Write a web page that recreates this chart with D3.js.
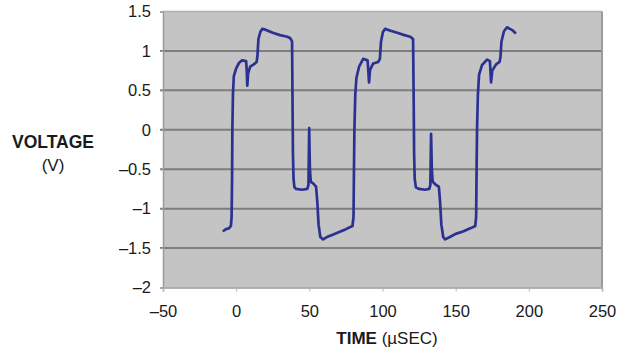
<!DOCTYPE html>
<meta charset="utf-8">
<style>
  body { margin: 0; background: #fff; }
  svg { display: block; }
  text { font-family: "Liberation Sans", Arial, sans-serif; fill: #1a1a1a; }
</style>
<body>
<script src="https://d3js.org/d3.v7.min.js"></script>
<script>
// tick values
var xTicks = [-50, 0, 50, 100, 150, 200, 250];
var yTicks = [-2, -1.5, -1, -0.5, 0, 0.5, 1, 1.5];

// trace, time in µs / voltage in V
var cycle1 = [[-8.5,-1.28],[-7,-1.26],[-5,-1.25],[-3.6,-1.22],[-3.1,-1.1],[-2.8,-0.6],[-2.6,0.0],[-2.2,0.45],[-1.6,0.68],[0,0.78],[2,0.85],[4,0.88],[6.8,0.87],[7.2,0.76],[7.6,0.56],[8.2,0.72],[9.6,0.8],[12,0.83],[14,0.86],[14.6,0.95],[15.2,1.15],[16.5,1.24],[17.8,1.28],[20,1.27],[25,1.23],[30,1.2],[35,1.18],[37,1.16],[38.2,1.12]];
var cycle1Low = [[38.5,0.4],[38.8,-0.3],[39.2,-0.62],[39.8,-0.73],[41,-0.75],[45,-0.76],[48.6,-0.75],[49.4,-0.7],[49.9,0.02],[50.4,-0.5],[51,-0.66],[52.6,-0.68],[54.6,-0.72],[55.4,-0.9],[56.3,-1.2],[57.5,-1.36],[59.4,-1.39],[62,-1.36],[66,-1.33],[70,-1.3],[75,-1.26],[79.5,-1.22]];
var cycle2 = [[80.2,-1.1],[80.5,-0.5],[80.8,0.0],[81.4,0.45],[82.2,0.66],[84,0.8],[86.8,0.9],[89.8,0.88],[90.3,0.75],[90.8,0.6],[91.5,0.76],[93.6,0.84],[97,0.86],[98.2,0.9],[99,1.12],[100.3,1.24],[101.8,1.28],[105,1.26],[110,1.23],[115,1.2],[119,1.18],[120.9,1.15]];
var cycle2Low = [[121.3,0.4],[121.6,-0.3],[122,-0.62],[122.8,-0.73],[125,-0.75],[129,-0.76],[132,-0.75],[132.7,-0.7],[133.2,-0.05],[133.7,-0.5],[134.3,-0.66],[136.6,-0.7],[138.5,-0.72],[139.3,-0.9],[140.2,-1.2],[141.5,-1.36],[142.8,-1.39],[146,-1.36],[150,-1.32],[155,-1.29],[160,-1.25],[163.4,-1.22]];
var cycle3 = [[164,-1.1],[164.3,-0.5],[164.6,0.0],[165.2,0.45],[166,0.7],[168,0.82],[171.4,0.89],[173.4,0.87],[173.8,0.74],[174.2,0.6],[175,0.75],[177.6,0.83],[180,0.86],[180.6,0.92],[181.3,1.12],[183,1.25],[185.1,1.3],[187,1.28],[189,1.26],[190.6,1.23]];

var trace = cycle1.concat(cycle1Low, cycle2, cycle2Low, cycle3);

var W = 625, H = 353;
var margin = {top: 11.5, right: 23, bottom: 65.5, left: 163};

var svg = d3.select("body").append("svg")
  .attr("width", W)
  .attr("height", H);

var x = d3.scaleLinear().domain([-50, 250]).range([margin.left, W - margin.right]);
var y = d3.scaleLinear().domain([-2, 1.5]).range([H - margin.bottom, margin.top]);

// plot background
svg.append("rect")
  .attr("x", x(-50)).attr("y", y(1.5))
  .attr("width", x(250) - x(-50)).attr("height", y(-2) - y(1.5))
  .attr("fill", "#c4c4c4");

// horizontal grid lines
svg.append("g").selectAll("line")
  .data(yTicks.filter(function(d){ return d > -2 && d < 1.5; }))
  .enter().append("line")
    .attr("x1", x(-50) - 3).attr("x2", x(250))
    .attr("y1", function(d){ return y(d); })
    .attr("y2", function(d){ return y(d); })
    .attr("stroke", "#7d7d7d")
    .attr("stroke-width", 2);

// frame
svg.append("line")
  .attr("x1", x(-50)).attr("x2", x(250)).attr("y1", y(1.5)).attr("y2", y(1.5))
  .attr("stroke", "#b0b0b0").attr("stroke-width", 1.5);
svg.append("line")
  .attr("x1", x(250)).attr("x2", x(250)).attr("y1", y(1.5)).attr("y2", y(-2))
  .attr("stroke", "#9a9a9a").attr("stroke-width", 2);

// y axis
var yAxis = d3.axisLeft(y)
  .tickValues(yTicks)
  .tickSize(3)
  .tickPadding(9)
  .tickFormat(function(d){ return d < 0 ? "\u2013" + Math.abs(d) : String(d); });

var gy = svg.append("g")
  .attr("transform", "translate(" + x(-50) + ",0)")
  .call(yAxis);
gy.select(".domain").attr("stroke", "#9a9a9a").attr("stroke-width", 1.5);
gy.selectAll(".tick line").attr("stroke", "#9a9a9a");
gy.selectAll("text").style("font-size", "16.5px").attr("fill", "#151515");

// x axis
var xAxis = d3.axisBottom(x)
  .tickValues(xTicks)
  .tickSize(4)
  .tickPadding(14)
  .tickFormat(function(d){ return d < 0 ? "\u2013" + Math.abs(d) : String(d); });

var gx = svg.append("g")
  .attr("transform", "translate(0," + y(-2) + ")")
  .call(xAxis);
gx.select(".domain").attr("stroke", "#9a9a9a").attr("stroke-width", 1.5);
gx.selectAll(".tick line").attr("stroke", "#b5b5b5");
gx.selectAll("text").style("font-size", "16.5px").attr("fill", "#151515");

// the trace
var line = d3.line()
  .x(function(d){ return x(d[0]); })
  .y(function(d){ return y(d[1]); });

svg.append("path")
  .datum(trace)
  .attr("d", line)
  .attr("fill", "none")
  .attr("stroke", "#2b3192")
  .attr("stroke-width", 2.7)
  .attr("stroke-linejoin", "round")
  .attr("stroke-linecap", "round");

// axis titles
var yTitle = svg.append("text")
  .attr("x", 53).attr("y", 148)
  .attr("text-anchor", "middle")
  .style("font-size", "17.5px");
yTitle.append("tspan").style("font-weight", "bold").text("VOLTAGE");
svg.append("text")
  .attr("x", 53).attr("y", 171)
  .attr("text-anchor", "middle")
  .style("font-size", "17px")
  .text("(V)");

var xTitle = svg.append("text")
  .attr("x", 387).attr("y", 344)
  .attr("text-anchor", "middle")
  .style("font-size", "17px");
xTitle.append("tspan").style("font-weight", "bold").text("TIME");
xTitle.append("tspan").text(" (\u00b5SEC)");
</script>
</body>
